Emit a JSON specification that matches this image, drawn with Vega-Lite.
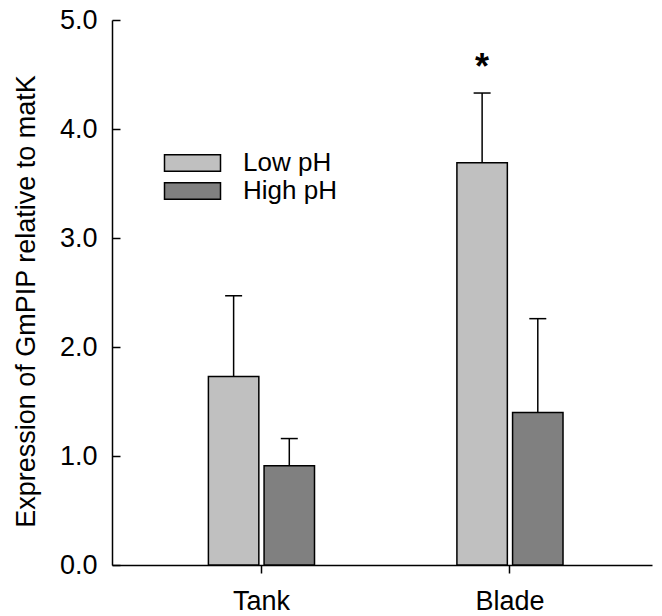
{
  "$schema": "https://vega.github.io/schema/vega-lite/v6.json",
  "width": 540,
  "height": 545,
  "autosize": {"type": "none"},
  "padding": {"left": 112, "top": 20, "right": 10, "bottom": 51},
  "config": {"view": {"stroke": null}, "font": "Liberation Sans"},
  "data": {
    "values": [
      {"tissue": "Tank", "ph": "Low pH", "value": 1.73, "err": 2.47, "sig": ""},
      {"tissue": "Tank", "ph": "High pH", "value": 0.91, "err": 1.16, "sig": ""},
      {"tissue": "Blade", "ph": "Low pH", "value": 3.69, "err": 4.33, "sig": "*"},
      {"tissue": "Blade", "ph": "High pH", "value": 1.40, "err": 2.26, "sig": ""}
    ]
  },
  "encoding": {
    "x": {
      "field": "tissue", "type": "nominal", "sort": ["Tank", "Blade"],
      "scale": {"paddingInner": 0.573, "paddingOuter": 0.373, "align": 0.52},
      "axis": {
        "title": null, "labelAngle": 0, "labelFontSize": 27, "labelColor": "black",
        "tickSize": 8, "tickColor": "black", "tickWidth": 1.5,
        "domainColor": "black", "domainWidth": 1.5, "labelPadding": 15
      }
    },
    "xOffset": {
      "field": "ph", "type": "nominal", "sort": ["Low pH", "High pH"],
      "scale": {"paddingInner": 0.094, "paddingOuter": 0}
    }
  },
  "layer": [
    {
      "mark": {"type": "bar", "stroke": "black", "strokeWidth": 1.5},
      "encoding": {
        "y": {
          "field": "value", "type": "quantitative",
          "scale": {"domain": [0, 5], "nice": false},
          "axis": {
            "values": [0, 1, 2, 3, 4, 5], "format": ".1f", "grid": false,
            "tickSize": -8, "tickColor": "black", "tickWidth": 1.5,
            "domainColor": "black", "domainWidth": 1.5,
            "labelFontSize": 27, "labelColor": "black", "labelPadding": 23,
            "title": "Expression of GmPIP relative to matK",
            "titleFontSize": 27, "titleFontWeight": "normal", "titleColor": "black",
            "titlePadding": 19, "titleY": 281
          }
        },
        "fill": {
          "field": "ph", "type": "nominal",
          "scale": {"domain": ["Low pH", "High pH"], "range": ["#c0c0c0", "#808080"]},
          "legend": {
            "orient": "none", "legendX": 67.5, "legendY": 130, "title": null,
            "symbolType": "M-5.6,-1.65H5.6V1.65H-5.6Z", "symbolSize": 100,
            "symbolStrokeColor": "black", "symbolStrokeWidth": 1.5, "symbolOpacity": 1,
            "labelFontSize": 26, "labelColor": "black", "labelOffset": 37.5,
            "rowPadding": 2
          }
        }
      }
    },
    {
      "mark": {"type": "rule", "strokeWidth": 1.5, "color": "black"},
      "encoding": {
        "y": {"field": "value", "type": "quantitative"},
        "y2": {"field": "err"}
      }
    },
    {
      "mark": {"type": "tick", "orient": "horizontal", "size": 17, "thickness": 1.5, "color": "black", "opacity": 1},
      "encoding": {
        "y": {"field": "err", "type": "quantitative"}
      }
    },
    {
      "mark": {"type": "text", "fontSize": 36, "fontWeight": "bold", "baseline": "alphabetic", "dy": -14, "color": "black"},
      "encoding": {
        "y": {"field": "err", "type": "quantitative"},
        "text": {"field": "sig"}
      }
    }
  ]
}
